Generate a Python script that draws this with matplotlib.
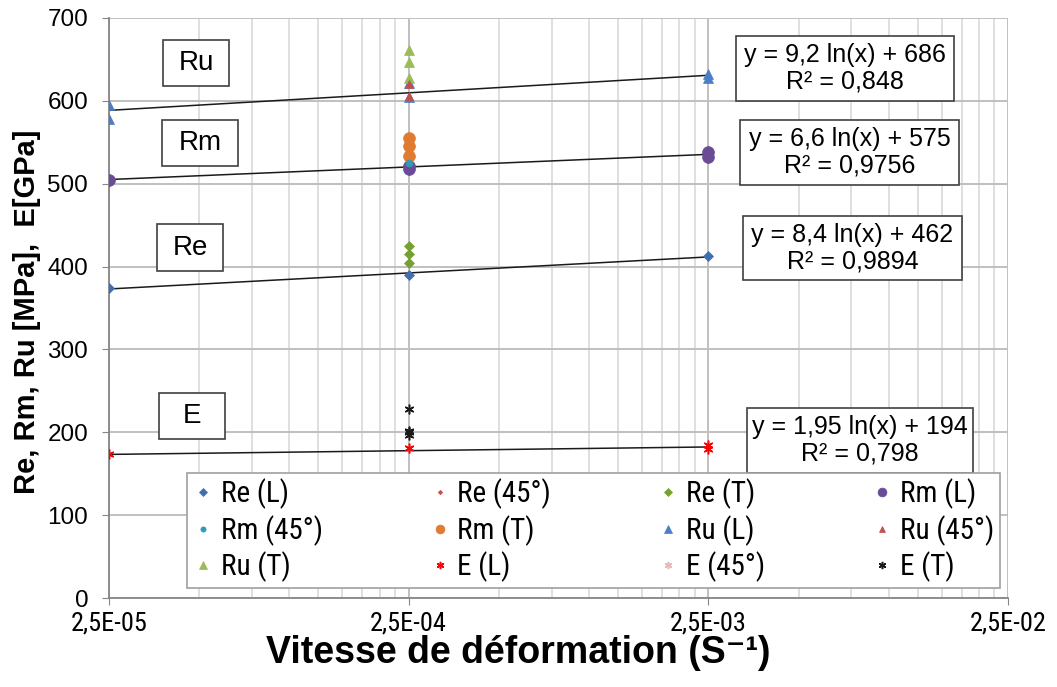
import matplotlib
matplotlib.use("Agg")
import matplotlib.pyplot as plt
from matplotlib import font_manager
from matplotlib.font_manager import FontProperties
from matplotlib.patches import Rectangle
import numpy as np

# strain rates (s^-1)
x_ticks = [2.5e-5, 2.5e-4, 2.5e-3, 2.5e-2]
x_ticklabels = ['2,5E-05', '2,5E-04', '2,5E-03', '2,5E-02']

re_L_x = [2.5e-5, 2.5e-4, 2.5e-3]
re_L_y = [374, 390, 413]
re_45_x = [2.5e-4]
re_45_y = [391]
re_T_x = [2.5e-4, 2.5e-4, 2.5e-4]
re_T_y = [404, 415, 425]

rm_L_x = [2.5e-5, 2.5e-4, 2.5e-4, 2.5e-3, 2.5e-3]
rm_L_y = [505, 518, 521, 532, 538]
rm_45_x = [2.5e-4]
rm_45_y = [525]
rm_T_x = [2.5e-4, 2.5e-4, 2.5e-4]
rm_T_y = [533, 545, 555]

ru_L_x = [2.5e-5, 2.5e-5, 2.5e-4, 2.5e-4, 2.5e-3, 2.5e-3]
ru_L_y = [578, 595, 605, 621, 627, 632]
ru_45_x = [2.5e-4, 2.5e-4]
ru_45_y = [606, 620]
ru_T_x = [2.5e-4, 2.5e-4, 2.5e-4]
ru_T_y = [628, 647, 661]

e_L_x = [2.5e-5, 2.5e-4, 2.5e-3, 2.5e-3]
e_L_y = [174, 181, 180, 185]
e_45_x = [2.5e-4]
e_45_y = [181]
e_T_x = [2.5e-4, 2.5e-4, 2.5e-4, 2.5e-4]
e_T_y = [197, 200, 202, 228]

# log trendlines y = a ln(x) + b  (Ru, Rm, Re, E)
trend_names = ['Ru', 'Rm', 'Re', 'E']
trend_a = [9.2, 6.6, 8.4, 1.95]
trend_b = [686, 575, 462, 194]
trend_r2 = ['0,848', '0,9756', '0,9894', '0,798']

plt.rcParams['font.family'] = ['Liberation Sans', 'DejaVu Sans']

# narrow face for tick labels and legend, if one is installed
narrow_family, narrow_stretch = 'Liberation Sans', 'normal'
fonts = font_manager.fontManager.ttflist
for fam in ['Liberation Sans Narrow', 'Roboto Condensed', 'Open Sans Condensed',
            'Noto Sans', 'Open Sans', 'Roboto', 'DejaVu Sans']:
    hits = [f for f in fonts if f.name == fam and
            (f.stretch in ('condensed', 'semi-condensed') or 'Narrow' in fam or 'Condensed' in fam)]
    if hits:
        narrow_family = fam
        narrow_stretch = hits[0].stretch
        break

def nfont(size, weight='normal'):
    return FontProperties(family=narrow_family, stretch=narrow_stretch, size=size, weight=weight)

fig = plt.figure(figsize=(10.57, 6.87), dpi=100)
ax = fig.add_axes([0.1031, 0.1295, 0.8506, 0.8443])
ax.set_xscale('log')
ax.set_xlim(2.5e-5, 2.5e-2)
ax.set_ylim(0, 700)

# grid: decades plus 2..9 multiples
minor = [2.5e-5 * 10**d * k for d in range(3) for k in range(2, 10)]
ax.set_xticks(x_ticks)
ax.set_xticks(minor, minor=True)
ax.set_xticklabels(x_ticklabels)
for t in ax.get_xticklabels():
    t.set_fontproperties(nfont(19))
ax.xaxis.set_minor_formatter(matplotlib.ticker.NullFormatter())
ax.set_yticks(range(0, 701, 100))
ax.tick_params(axis='y', labelsize=17.5, length=5, color='#868686', pad=10)
ax.tick_params(axis='x', which='major', length=5, color='#868686', pad=4.5)
ax.tick_params(axis='x', which='minor', length=0)
ax.grid(True, which='major', color='#c0c0c0', linewidth=1.4)
ax.grid(True, which='minor', axis='x', color='#d9d9d9', linewidth=1.2)
ax.set_axisbelow(True)
for s in ['top', 'right']:
    ax.spines[s].set_visible(False)
for s in ['left', 'bottom']:
    ax.spines[s].set_color('#868686')
    ax.spines[s].set_linewidth(1.3)

xs = np.array([2.5e-5, 2.5e-3])
for a, b in zip(trend_a, trend_b):
    ax.plot(xs, a * np.log(xs) + b, color='#1a1a1a', linewidth=1.1, zorder=2)

series = [
    (re_L_x, re_L_y, 'Re (L)', 'D', '#3f6fb0', 5),
    (re_45_x, re_45_y, 'Re (45°)', 'D', '#c0504d', 3),
    (re_T_x, re_T_y, 'Re (T)', 'D', '#77a033', 5.5),
    (rm_L_x, rm_L_y, 'Rm (L)', 'o', '#6a4c96', 8.5),
    (rm_45_x, rm_45_y, 'Rm (45°)', 'o', '#2f9bb8', 5),
    (rm_T_x, rm_T_y, 'Rm (T)', 'o', '#e07b30', 8.5),
    (ru_L_x, ru_L_y, 'Ru (L)', '^', '#4a7ec5', 7.5),
    (ru_45_x, ru_45_y, 'Ru (45°)', '^', '#c0504d', 5.5),
    (ru_T_x, ru_T_y, 'Ru (T)', '^', '#9bbb59', 7.5),
    (e_L_x, e_L_y, 'E (L)', (6, 2, 0), '#ff0000', 7),
    (e_45_x, e_45_y, 'E (45°)', (6, 2, 0), '#e6b9b8', 7),
    (e_T_x, e_T_y, 'E (T)', (6, 2, 0), '#1a1a1a', 7),
]
draw_order = [1, 0, 2, 3, 5, 4, 6, 8, 7, 10, 9, 11]
handles = {}
for i in draw_order:
    x, y, lab, m, c, ms = series[i]
    h, = ax.plot(x, y, linestyle='none', marker=m, color=c, markersize=ms,
                 markeredgewidth=1.1 if isinstance(m, tuple) else 0.5,
                 label=lab, zorder=3)
    handles[i] = h

# legend in row order, 4 columns
order = [0, 4, 8, 1, 5, 9, 2, 6, 10, 3, 7, 11]
leg = ax.legend([handles[i] for i in order], [series[i][2] for i in order],
                ncol=4, loc='lower left', bbox_to_anchor=(0.0868, 0.0172, 0.904, 0.179),
                mode='expand', borderaxespad=0, fancybox=False, framealpha=1,
                edgecolor='#a0a0a0', prop=nfont(21),
                handlelength=0.7, handletextpad=0.25, labelspacing=0.2, borderpad=0.2,
                markerscale=0.75)
leg.get_frame().set_linewidth(1.2)

def box(x0, y0, x1, y1, text, size):
    ax.add_patch(Rectangle((x0, y0), x1 - x0, y1 - y0, transform=ax.transAxes,
                           facecolor='white', edgecolor='#404040', linewidth=1.2, zorder=4))
    ax.text((x0 + x1) / 2, (y0 + y1) / 2, text, transform=ax.transAxes,
            ha='center', va='center', fontsize=size, linespacing=1.15, zorder=5)

name_boxes = [(0.0601, 0.8828, 0.1335, 0.9621), (0.0590, 0.7448, 0.1435, 0.8241),
              (0.0534, 0.5638, 0.1268, 0.6448), (0.0556, 0.2741, 0.1290, 0.3534)]
eq_boxes = [(0.6974, 0.8569, 0.9399, 0.9690), (0.7019, 0.7121, 0.9455, 0.8241),
            (0.7052, 0.5483, 0.9488, 0.6586), (0.7097, 0.2155, 0.9611, 0.3276)]
for nm, (x0, y0, x1, y1) in zip(trend_names, name_boxes):
    box(x0, y0, x1, y1, nm, 20)
for a, b, r2, (x0, y0, x1, y1) in zip(trend_a, trend_b, trend_r2, eq_boxes):
    eq = 'y = {} ln(x) + {}\nR² = {}'.format(str(a).replace('.', ','), b, r2)
    box(x0, y0, x1, y1, eq, 18)

fig.text(0.490, 0.050, 'Vitesse de déformation (S⁻¹)', ha='center', va='center',
         fontsize=27, fontweight='bold')
fig.text(0.026, 0.546, 'Re, Rm, Ru [MPa],  E[GPa]', ha='center', va='center',
         rotation=90, fontsize=21, fontweight='bold')

fig.savefig('out.png', dpi=100)
